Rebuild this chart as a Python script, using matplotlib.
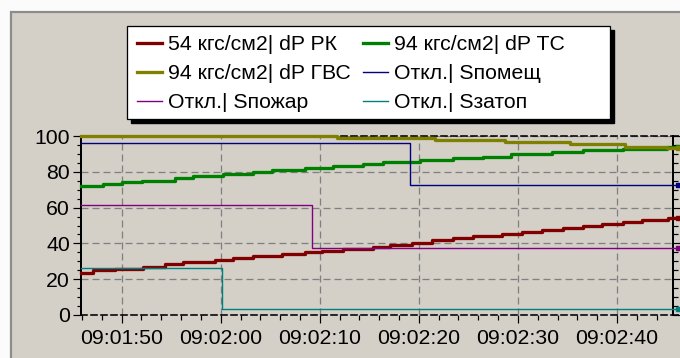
import matplotlib
matplotlib.use("Agg")
import matplotlib.pyplot as plt
from matplotlib.ticker import MultipleLocator, FuncFormatter
from matplotlib.patches import Rectangle
from matplotlib.lines import Line2D
import datetime as dt

# ---------------- data ----------------
base_time = "09:01:50"          # t = 0 s
labels = ["54 кгс/см2| dP РК", "94 кгс/см2| dP ТС", "94 кгс/см2| dP ГВС",
          "Откл.| Sпомещ", "Откл.| Sпожар", "Откл.| Sзатоп"]
colors = ["#800000", "#008000", "#808000", "#000080", "#800080", "#008080"]

t_rk = [-4.1, -2.87, -0.68, 2.18, 4.37, 6.22, 9.42, 11.27, 13.28, 16.15, 18.5, 20.19,
        22.37, 25.4, 27.08, 29.28, 31.29, 33.47, 35.49, 38.36, 40.38, 42.4, 44.58,
        46.6, 48.46, 50.64, 52.49, 55.18, 56.2]
v_rk = [23.6, 24.9, 25.7, 27.0, 28.3, 29.6, 30.7, 31.7, 32.8, 33.9, 35.0, 35.9,
        36.9, 38.2, 39.1, 40.4, 41.7, 42.8, 44.1, 45.3, 46.4, 47.5, 48.6,
        49.7, 50.8, 52.0, 53.1, 54.4, 54.4]

t_tc = [-4.1, -1.89, 0.0, 2.05, 5.38, 7.2, 10.2, 13.3, 15.2, 18.5, 21.3, 24.4, 26.4,
        30.1, 33.4, 36.5, 39.3, 43.4, 46.6, 50.6, 55.0, 56.2]
v_tc = [72.1, 73.0, 74.1, 75.0, 76.4, 77.6, 78.6, 79.7, 80.8, 82.0, 83.1, 84.2, 85.3,
        86.4, 87.5, 88.5, 89.8, 90.9, 92.0, 92.9, 93.7, 93.7]

t_gvs = [-4.1, 21.7, 31.6, 38.7, 45.3, 50.8, 55.0, 56.2]
v_gvs = [100.0, 98.7, 97.8, 96.5, 95.3, 93.9, 93.3, 93.3]

t_pom = [-4.1, 29.1, 56.2]
v_pom = [95.9, 72.5, 72.5]

t_poz = [-4.1, 19.25, 56.2]
v_poz = [61.2, 37.6, 37.6]

t_zat = [-4.1, 10.1, 56.2]
v_zat = [26.1, 3.2, 3.2]

# ---------------- styling ----------------
W, H = 680, 358
DPI = 100
PT = 72.0 / DPI  # points per pixel
plt.rcParams['font.family'] = ['Liberation Sans', 'DejaVu Sans']
plt.rcParams['lines.scale_dashes'] = False
FS = 15.3
BG = "#d4d0c8"

fig = plt.figure(figsize=(W / DPI, H / DPI), dpi=DPI, facecolor="#fbfbfb")

def fx(px):
    return px / W

def fy(py):
    return 1 - py / H

# panel with border
fig.patches.append(Rectangle((fx(11), fy(380)), fx(700) - fx(11), fy(12) - fy(380),
                             transform=fig.transFigure, facecolor=BG,
                             edgecolor="#8c8c8c", linewidth=2.2 * PT, zorder=-5))

ax_l, ax_r, ax_t, ax_b = 81, 673, 136, 315
ax = fig.add_axes([fx(ax_l), fy(ax_b), fx(ax_r) - fx(ax_l), fy(ax_t) - fy(ax_b)])
ax.set_zorder(1)
ax.set_facecolor("none")
ax.set_xlim(-4.1, 55.65)
ax.set_ylim(0, 100)

# grid
ax.grid(True, which="major", color="#808080", linewidth=1.3 * PT,
        linestyle=(0, (7 * PT, 4 * PT)))
ax.set_axisbelow(True)

# spines
for s in ["left", "right"]:
    ax.spines[s].set_color("black")
    ax.spines[s].set_linewidth(2 * PT)
for s in ["top", "bottom"]:
    ax.spines[s].set_color("black")
    ax.spines[s].set_linewidth(1.6 * PT)
    ax.spines[s].set_linestyle((0, (6 * PT, 4 * PT)))

# dashed frame continuing past the cursor line
for yy in (0, 1):
    ax.plot([1, 1.03], [yy, yy], transform=ax.transAxes, color="black",
            linewidth=1.6 * PT, linestyle=(0, (6 * PT, 4 * PT)), clip_on=False,
            zorder=2)

# ticks
ax.xaxis.set_major_locator(MultipleLocator(10))
ax.xaxis.set_minor_locator(MultipleLocator(2))
ax.yaxis.set_major_locator(MultipleLocator(20))
ax.yaxis.set_minor_locator(MultipleLocator(5))

t0 = dt.datetime.strptime(base_time, "%H:%M:%S")

def tfmt(v, pos):
    return (t0 + dt.timedelta(seconds=round(v))).strftime("%H:%M:%S")

ax.xaxis.set_major_formatter(FuncFormatter(tfmt))
ax.tick_params(axis="both", which="major", direction="out", length=8 * PT,
               width=1.2 * PT, colors="black", labelsize=FS)
ax.tick_params(axis="both", which="minor", direction="out", length=4.5 * PT,
               width=1.2 * PT, colors="black")
ax.tick_params(axis="x", which="major", pad=6 * PT)
ax.tick_params(axis="y", which="major", pad=3 * PT)
ax.tick_params(axis="y", which="both", right=True, labelright=False)
ax.tick_params(axis="y", which="major", right=True, length=8 * PT)

# series
series = [(t_rk, v_rk, 3.3), (t_tc, v_tc, 3.3), (t_gvs, v_gvs, 3.3),
          (t_pom, v_pom, 1.4), (t_poz, v_poz, 1.4), (t_zat, v_zat, 1.4)]
handles = []
for (tt, vv, lw), c, lab in zip(series, colors, labels):
    ln, = ax.plot(tt, vv, drawstyle="steps-post", color=c, linewidth=lw * PT,
                  clip_on=False, marker="s", markersize=5 * PT,
                  markevery=[len(tt) - 1], label=lab, zorder=3)
    handles.append(Line2D([], [], color=c, linewidth=lw * PT))

# legend box with shadow
lx0, ly0, lx1, ly1 = 127, 26, 610, 119
sh = 4
fig.patches.append(Rectangle((fx(lx0 + sh), fy(ly1 + sh)), fx(lx1) - fx(lx0),
                             fy(ly0) - fy(ly1), transform=fig.transFigure,
                             facecolor="black", edgecolor="black", zorder=5))
fig.patches.append(Rectangle((fx(lx0), fy(ly1)), fx(lx1) - fx(lx0),
                             fy(ly0) - fy(ly1), transform=fig.transFigure,
                             facecolor="white", edgecolor="black",
                             linewidth=1.3 * PT, zorder=6))

order = [0, 2, 4, 1, 3, 5]
leg = fig.legend([handles[i] for i in order], [labels[i] for i in order],
                 ncol=2, loc="upper left",
                 bbox_to_anchor=(fx(lx0 + 8), fy(ly0 + 7)),
                 frameon=False, fontsize=FS, handlelength=25 / 21.3,
                 handletextpad=6 / 21.3, columnspacing=12 / 21.3,
                 labelspacing=0.47, borderpad=0.1, borderaxespad=0)
leg.set_zorder(7)

fig.savefig("out.png", dpi=DPI, facecolor=fig.get_facecolor())
